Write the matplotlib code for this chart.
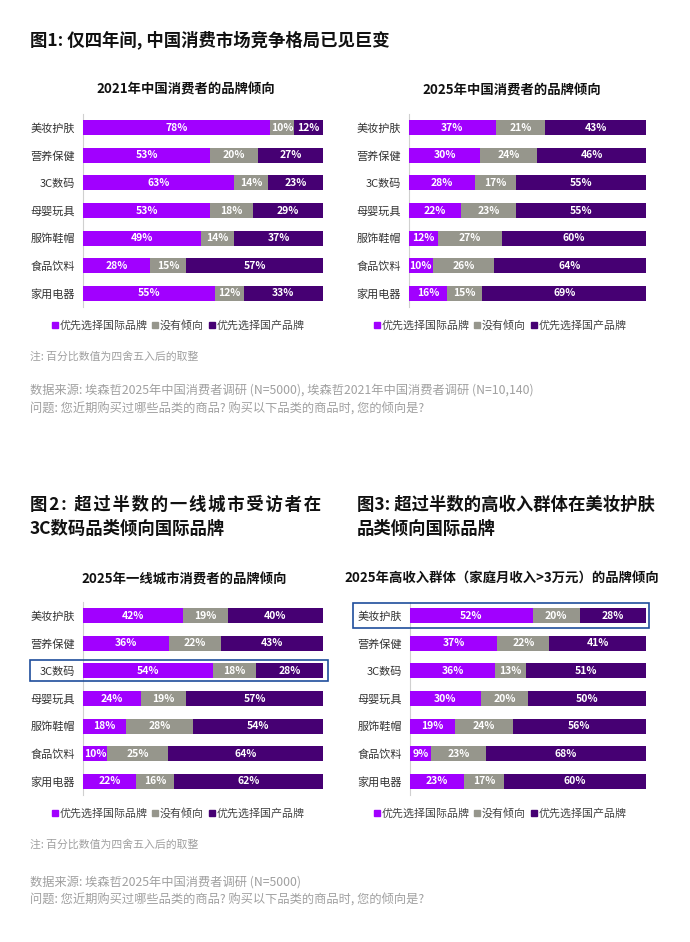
import matplotlib
matplotlib.use('Agg')
import matplotlib.pyplot as plt
from matplotlib.lines import Line2D
from matplotlib.patches import Rectangle
import numpy as np

plt.rcParams['font.family'] = ['Noto Sans CJK SC', 'DejaVu Sans']

categories = ['美妆护肤', '营养保健', '3C数码', '母婴玩具', '服饰鞋帽', '食品饮料', '家用电器']
legend_labels = ['优先选择国际品牌', '没有倾向', '优先选择国产品牌']

# 2021 all consumers
intl_2021 = [78, 53, 63, 53, 49, 28, 55]
none_2021 = [10, 20, 14, 18, 14, 15, 12]
domestic_2021 = [12, 27, 23, 29, 37, 57, 33]

# 2025 all consumers
intl_2025 = [37, 30, 28, 22, 12, 10, 16]
none_2025 = [21, 24, 17, 23, 27, 26, 15]
domestic_2025 = [43, 46, 55, 55, 60, 64, 69]

# 2025 tier-1 cities
intl_tier1 = [42, 36, 54, 24, 18, 10, 22]
none_tier1 = [19, 22, 18, 19, 28, 25, 16]
domestic_tier1 = [40, 43, 28, 57, 54, 64, 62]

# 2025 high income
intl_high = [52, 37, 36, 30, 19, 9, 23]
none_high = [20, 22, 13, 20, 24, 23, 17]
domestic_high = [28, 41, 51, 50, 56, 68, 60]

COLORS = ['#a100ff', '#96968c', '#460073']
GREY_TXT = '#a0a0a0'
W, H = 690, 942

fig = plt.figure(figsize=(W / 100, H / 100), dpi=100)


def px_rect(left, top, width, height):
    # pixel box (from top-left) -> figure fraction rect
    return [left / W, 1 - (top + height) / H, width / W, height / H]


def fy(y):
    return 1 - y / H


def spread(s):
    # the source justifies the first title line; mimic with hair spaces
    return '\u200a'.join(s)


def draw_panel(rect, series, highlight=None):
    ax = fig.add_axes(rect)
    data = np.array(series, dtype=float)
    shares = data / data.sum(axis=0) * 100  # rows are drawn to full width
    y = np.arange(len(categories))
    left = np.zeros(len(categories))
    for vals, shown, color in zip(shares, data, COLORS):
        bars = ax.barh(y, vals, left=left, height=0.54, color=color, zorder=3)
        ax.bar_label(bars, labels=[f'{v:.0f}%' for v in shown], label_type='center',
                     color='white', fontsize=7.5, fontweight='bold')
        left += vals
    ax.set_xlim(0, 100)
    ax.set_ylim(len(categories) - 0.5, -0.5)
    ax.set_yticks(y, categories)
    ax.tick_params(axis='y', length=0, pad=6, labelsize=8, labelcolor='#333333')
    ax.set_xticks([])
    for s in ['top', 'right', 'bottom']:
        ax.spines[s].set_visible(False)
    ax.spines['left'].set_color('#d0d0d0')
    ax.spines['left'].set_linewidth(0.8)
    if highlight is not None:
        row, x0, x1, half = highlight
        ax.add_patch(Rectangle((x0, row - half), x1 - x0, 2 * half, fill=False,
                               edgecolor='#1f4e9c', lw=1.2, clip_on=False, zorder=4))
    return ax


def add_legend(cx, cy):
    handles = [Line2D([], [], marker='s', linestyle='none', markersize=4,
                      markerfacecolor=c, markeredgecolor=c) for c in COLORS]
    fig.legend(handles, legend_labels, loc='center', bbox_to_anchor=(cx / W, fy(cy)),
               ncol=3, frameon=False, fontsize=7.9, handlelength=0.6, handletextpad=0.15,
               columnspacing=0.4, labelcolor='#444444', borderpad=0)


def notes(y_note, y_src, y_q, source):
    fig.text(30 / W, fy(y_note), '注: 百分比数值为四舍五入后的取整', fontsize=7.8, color=GREY_TXT,
             va='center')
    fig.text(30 / W, fy(y_src), source, fontsize=8.8, color=GREY_TXT, va='center')
    fig.text(30 / W, fy(y_q), '问题: 您近期购买过哪些品类的商品? 购买以下品类的商品时, 您的倾向是?',
             fontsize=8.8, color=GREY_TXT, va='center')


# ---- figure 1 ----
fig.text(30 / W, fy(40), '图1: 仅四年间, 中国消费市场竞争格局已见巨变', fontsize=12.5,
         fontweight='bold', va='center', ha='left', color='#111111')
fig.text(186 / W, fy(89), '2021年中国消费者的品牌倾向', fontsize=9.6, fontweight='bold',
         ha='center', va='center', color='#111111')
fig.text(512 / W, fy(90), '2025年中国消费者的品牌倾向', fontsize=9.6, fontweight='bold',
         ha='center', va='center', color='#111111')

draw_panel(px_rect(83, 114, 240, 193), [intl_2021, none_2021, domestic_2021])
draw_panel(px_rect(409, 114, 237, 193), [intl_2025, none_2025, domestic_2025])
add_legend(178, 325)
add_legend(500, 325)

notes(357, 390, 409, '数据来源: 埃森哲2025年中国消费者调研 (N=5000), 埃森哲2021年中国消费者调研 (N=10,140)')

# ---- figure 2 & 3 ----
fig.text(30 / W, fy(505), spread('图2: 超过半数的一线城市受访者在'), fontsize=12.5,
         fontweight='bold', va='center', ha='left', color='#111111')
fig.text(30 / W, fy(529), '3C数码品类倾向国际品牌', fontsize=12.5,
         fontweight='bold', va='center', ha='left', color='#111111')
fig.text(357 / W, fy(505), '图3: 超过半数的高收入群体在美妆护肤', fontsize=12.5,
         fontweight='bold', va='center', ha='left', color='#111111')
fig.text(357 / W, fy(529), '品类倾向国际品牌', fontsize=12.5,
         fontweight='bold', va='center', ha='left', color='#111111')
fig.text(184 / W, fy(579), '2025年一线城市消费者的品牌倾向', fontsize=9.6, fontweight='bold',
         ha='center', va='center', color='#111111')
fig.text(502 / W, fy(579), '2025年高收入群体（家庭月收入>3万元）的品牌倾向', fontsize=9.6,
         fontweight='bold', ha='center', va='center', color='#111111')

draw_panel(px_rect(83, 602, 240, 193), [intl_tier1, none_tier1, domestic_tier1],
           highlight=(2, -22.1, 102.1, 0.38))
draw_panel(px_rect(410, 602, 236, 193), [intl_high, none_high, domestic_high],
           highlight=(0, -24.2, 101.3, 0.45))
add_legend(178, 813)
add_legend(500, 813)

notes(845, 882, 900, '数据来源: 埃森哲2025年中国消费者调研 (N=5000)')

fig.savefig('out.png', dpi=100, facecolor='white')
